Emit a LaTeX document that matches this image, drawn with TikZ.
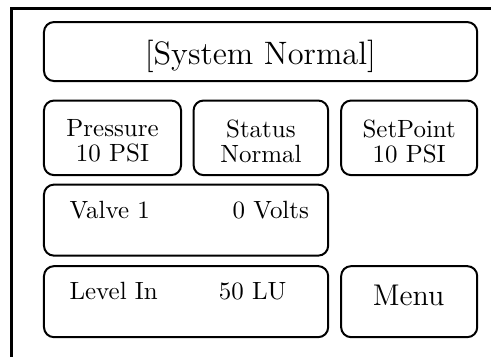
\documentclass[tikz,border=0pt]{standalone}
\usepackage{tikz}
\tikzset{
	panel/.style={line width=0.8pt, rounded corners=4pt},
	readout/.style={align=center, inner sep=0pt, font=\fontsize{10}{10}\selectfont}
}

\begin{document}
\begin{tikzpicture}
	%%%%% START %%%%%
	\useasboundingbox (0, 0) rectangle (6.92, 5.02);
	\draw[line width=1.1pt] (0.158, -0.5) -- (0.158, 4.897) -- (7.5, 4.897);
	
	\draw[panel] (0.62, 3.878) rectangle (6.726, 4.709);
	\node[readout, font=\fontsize{13}{15}\selectfont] (banner) at (3.67, 4.23) {[System Normal]};
	
	\draw[panel] (0.62, 2.552) rectangle (2.552, 3.603);
	\node[readout] (pressure) at (1.586, 3.03) {Pressure\\10 PSI};
	
	\draw[panel] (2.728, 2.552) rectangle (4.625, 3.603);
	\node[readout] (status) at (3.677, 3.03) {Status\\Normal};
	
	\draw[panel] (4.808, 2.552) rectangle (6.726, 3.603);
	\node[readout] (setpoint) at (5.767, 3.03) {SetPoint\\10 PSI};
	
	\draw[panel] (0.62, 1.417) rectangle (4.625, 2.418);
	\node[readout, anchor=base west] (valvename) at (0.973, 1.942) {Valve 1};
	\node[readout, anchor=base west] (valveout) at (3.271, 1.942) {0 Volts};
	
	\draw[panel] (0.62, 0.268) rectangle (4.625, 1.269);
	\node[readout, anchor=base west] (levelname) at (0.973, 0.80) {Level In};
	\node[readout, anchor=base west] (levelval) at (3.078, 0.80) {50 LU};
	
	\draw[panel] (4.808, 0.268) rectangle (6.726, 1.269);
	\node[readout, font=\large] (menu) at (5.76, 0.86) {Menu};
	%%%%% END %%%%%
\end{tikzpicture}
\end{document}
